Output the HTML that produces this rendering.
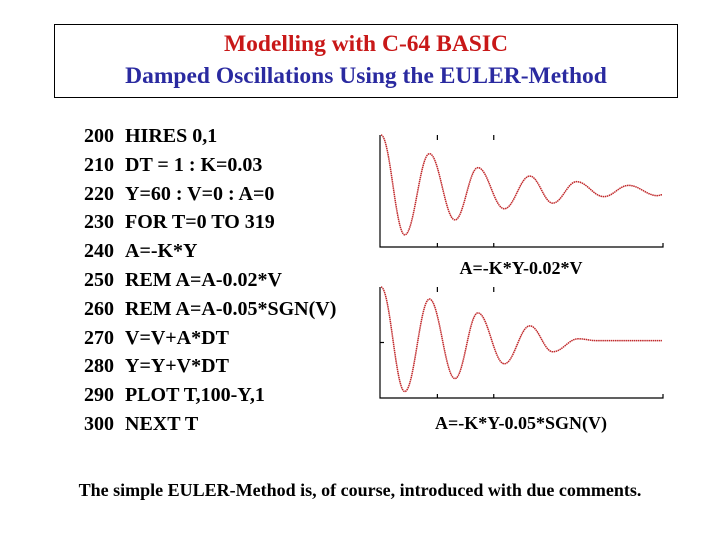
<!DOCTYPE html>
<html><head><meta charset="utf-8"><style>
body{margin:0;background:#fff;}
#root{position:relative;width:720px;height:540px;overflow:hidden;font-family:"Liberation Serif",serif;font-weight:bold;}
.t{position:absolute;white-space:nowrap;line-height:1;}
</style></head><body><div id="root">
<div style="position:absolute;left:54px;top:24px;width:622px;height:72px;border:1px solid #000;"></div>
<div class="t" style="left:54px;width:624px;text-align:center;top:33px;font-size:23.5px;color:#c81818;">Modelling with C-64 BASIC</div>
<div class="t" style="left:54px;width:624px;text-align:center;top:65px;font-size:23.5px;color:#2a2aa0;">Damped Oscillations Using the EULER-Method</div>
<div id="code"></div>
<svg id="chart" width="720" height="540" style="position:absolute;left:0;top:0"></svg>
<div class="t" style="left:380px;width:282px;text-align:center;top:259px;font-size:18px;">A=-K*Y-0.02*V</div>
<div class="t" style="left:380px;width:282px;text-align:center;top:414px;font-size:18px;">A=-K*Y-0.05*SGN(V)</div>
<div class="t" style="left:0;width:720px;text-align:center;top:481px;font-size:18px;">The simple EULER-Method is, of course, introduced with due comments.</div>
</div>
<script>
const lineNums=["200","210","220","230","240","250","260","270","280","290","300"];
const codeLines=["HIRES 0,1","DT = 1 : K=0.03","Y=60 : V=0 : A=0","FOR T=0 TO 319","A=-K*Y","REM A=A-0.02*V","REM A=A-0.05*SGN(V)","V=V+A*DT","Y=Y+V*DT","PLOT T,100-Y,1","NEXT T"];
const t1=[0,27,55,84,110,140,169,195,222,253,281,314,319];
const y1=[60,-47,40,-31,25,-19,16,-13,10,-6,6,-5,-4];
const t2=[0,27,55,84,110,140,169,195,224,245,319];
const y2=[60,-53,47,-39,32,-23,18,-10,4,2,2];

const code=document.getElementById('code');
lineNums.forEach((n,i)=>{
  const a=document.createElement('div');a.className='t';
  
  
  a.style.cssText=`left:84px;top:${126+i*28.8}px;font-size:20px;`;a.textContent=n;code.appendChild(a);
  const b=document.createElement('div');b.className='t';
  
  
  b.style.cssText=`left:125px;top:${126+i*28.8}px;font-size:20px;`;b.textContent=codeLines[i];code.appendChild(b);
});
const svg=document.getElementById('chart');const NS='http://www.w3.org/2000/svg';
function el(tag,attrs){const e=document.createElementNS(NS,tag);for(const k in attrs)e.setAttribute(k,attrs[k]);svg.appendChild(e);return e;}
function plot(top,bottom,ts,ys,name,leftTick){
  const x0=381,x1=662,mid=(top+bottom)/2,sc=(mid-top)/60;
  const X=t=>x0+t*(x1-x0)/319,Y=v=>mid-v*sc;
  const ax=el('path',{d:`M${x0-1},${top} V${bottom} H${x1+1} V${bottom-4} M${X(64)},${bottom} v-4 M${X(128)},${bottom} v-4 M${X(64)},${top} v5 M${X(128)},${top} v5`,stroke:'#000','stroke-width':1.2,fill:'none'});
  
  
  if(leftTick){const tk=el('path',{d:`M${x0-1},${mid} h4`,stroke:'#000','stroke-width':1.2});
    
    }
  let d=`M${X(ts[0])},${Y(ys[0])}`;
  for(let i=1;i<ts.length;i++){const xa=X(ts[i-1]),xb=X(ts[i]),dx=(xb-xa)/2.6;
    d+=` C${xa+dx},${Y(ys[i-1])} ${xb-dx},${Y(ys[i])} ${xb},${Y(ys[i])}`;}
  const p=el('path',{d,stroke:'#c0282a','stroke-width':1.5,fill:'none','stroke-dasharray':'1.5 0.6'});
  
  
}
plot(135,247,t1,y1,'plot-1',false);
plot(287,398,t2,y2,'plot-2',true);
</script></body></html>
